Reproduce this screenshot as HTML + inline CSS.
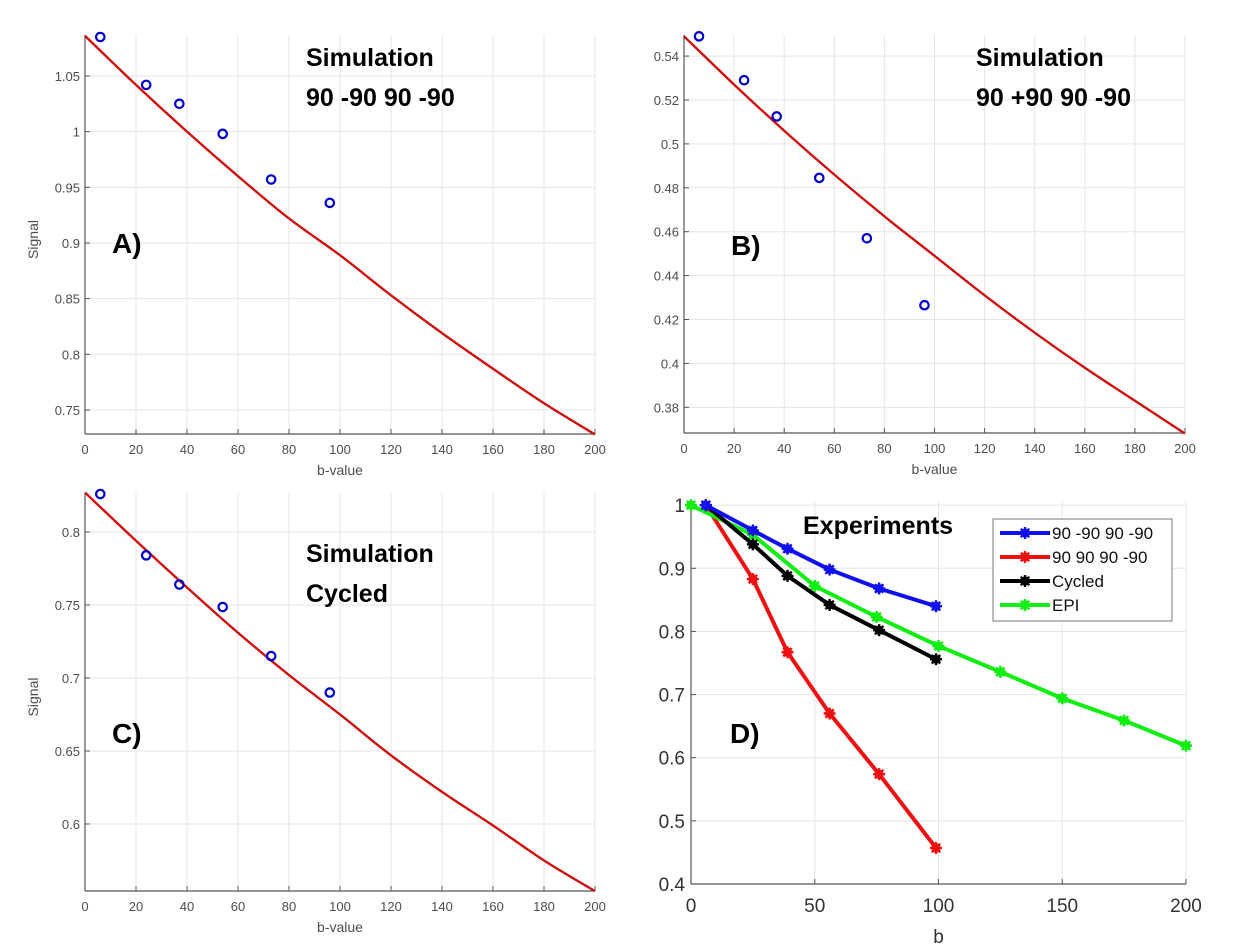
<!DOCTYPE html>
<html><head><meta charset="utf-8"><style>
body{margin:0;background:#fff;}
svg{display:block;}
.tk{font-family:"Liberation Sans",sans-serif;font-size:13px;fill:#4d4d4d;}
.tkd{font-family:"Liberation Sans",sans-serif;font-size:19px;fill:#333;}
.ann{font-family:"Liberation Sans",sans-serif;font-weight:bold;font-size:25px;fill:#000;}
.lg{font-family:"Liberation Sans",sans-serif;font-size:16px;fill:#111;}
</style></head><body>
<svg id="fig" width="1249" height="950" viewBox="0 0 1249 950" xmlns="http://www.w3.org/2000/svg"></svg>
<script>
// ---- data ----
const simB = [6, 24, 37, 54, 73, 96];
const simA = [1.085, 1.042, 1.025, 0.998, 0.957, 0.936];
const simBv = [0.549, 0.529, 0.5125, 0.4845, 0.457, 0.4265];
const simC = [0.826, 0.784, 0.764, 0.7486, 0.715, 0.690];
const fitB = [0, 20, 40, 60, 80, 100, 120, 140, 160, 180, 200];
const fitA = [1.086, 1.042, 1.000, 0.960, 0.922, 0.889, 0.853, 0.819, 0.787, 0.756, 0.728];
const fitBv = [0.549, 0.527, 0.506, 0.486, 0.467, 0.449, 0.431, 0.414, 0.398, 0.383, 0.368];
const fitC = [0.827, 0.794, 0.762, 0.731, 0.702, 0.675, 0.647, 0.622, 0.599, 0.575, 0.554];
const simXTicks = [0, 20, 40, 60, 80, 100, 120, 140, 160, 180, 200];
const aYTicks = [0.75, 0.8, 0.85, 0.9, 0.95, 1, 1.05];
const bYTicks = [0.38, 0.4, 0.42, 0.44, 0.46, 0.48, 0.5, 0.52, 0.54];
const cYTicks = [0.6, 0.65, 0.7, 0.75, 0.8];
const expB = [6, 25, 39, 56, 76, 99];
const expBlue = [1.0, 0.960, 0.931, 0.898, 0.868, 0.840];
const expRed = [1.0, 0.883, 0.767, 0.670, 0.574, 0.457];
const expBlack = [1.0, 0.938, 0.888, 0.842, 0.802, 0.756];
const epiB = [0, 25, 50, 75, 100, 125, 150, 175, 200];
const epiGreen = [1.0, 0.953, 0.872, 0.823, 0.777, 0.736, 0.694, 0.659, 0.619];
const dXTicks = [0, 50, 100, 150, 200];
const dYTicks = [0.4, 0.5, 0.6, 0.7, 0.8, 0.9, 1];
const legendLabels = ['90 -90 90 -90', '90 90 90 -90', 'Cycled', 'EPI'];

const NS = 'http://www.w3.org/2000/svg';
const svg = document.getElementById('fig');
function mk(tag, attrs, parent, txt){
  const e = document.createElementNS(NS, tag);
  for (const k in attrs) e.setAttribute(k, attrs[k]);
  if (txt !== undefined) e.textContent = txt;
  (parent || svg).appendChild(e);
  return e;
}
function axes(p){
  const sx = v => p.x0 + (v - p.xmin) / (p.xmax - p.xmin) * (p.x1 - p.x0);
  const sy = v => p.yb - (v - p.ymin) / (p.ymax - p.ymin) * (p.yb - p.yt);
  return {sx, sy};
}
function smoothPath(pts){
  let d = 'M' + pts[0][0] + ',' + pts[0][1];
  for (let i=0;i<pts.length-1;i++){
    const p0 = pts[Math.max(0,i-1)], p1 = pts[i], p2 = pts[i+1], p3 = pts[Math.min(pts.length-1,i+2)];
    const c1x = p1[0] + (p2[0]-p0[0])/6, c1y = p1[1] + (p2[1]-p0[1])/6;
    const c2x = p2[0] - (p3[0]-p1[0])/6, c2y = p2[1] - (p3[1]-p1[1])/6;
    d += ` C${c1x},${c1y} ${c2x},${c2y} ${p2[0]},${p2[1]}`;
  }
  return d;
}
function drawFrame(p, g, xt, yt, big){
  const {sx, sy} = axes(p);
  xt.forEach(v => {
    const l = mk('line', {x1:sx(v), x2:sx(v), y1:p.yt, y2:p.yb, stroke:'#e5e5e5', 'stroke-width':1}, g);
    
    
    mk('line', {x1:sx(v), x2:sx(v), y1:p.yb, y2:p.yb-5, stroke:'#555', 'stroke-width':1}, g);
    const t = mk('text', {x:sx(v), y:p.yb + (big?28:20), 'text-anchor':'middle', class: big?'tkd':'tk'}, g, String(v));
    
    
  });
  yt.forEach(v => {
    const l = mk('line', {x1:p.x0, x2:p.x1, y1:sy(v), y2:sy(v), stroke:'#e5e5e5', 'stroke-width':1}, g);
    
    
    mk('line', {x1:p.x0, x2:p.x0+5, y1:sy(v), y2:sy(v), stroke:'#555', 'stroke-width':1}, g);
    const t = mk('text', {x:p.x0 - (big?6:5), y:sy(v) + (big?7:5), 'text-anchor':'end', class: big?'tkd':'tk'}, g, String(v));
    
    
  });
  mk('line', {x1:p.x0, x2:p.x0, y1:p.yt, y2:p.yb, stroke:'#555', 'stroke-width':1.2}, g);
  mk('line', {x1:p.x0, x2:p.x1, y1:p.yb, y2:p.yb, stroke:'#555', 'stroke-width':1.2}, g);
}
function simPanel(name, p, yt, fit, pts, lines, lab, labY, showSignal){
  const g = mk('g', {});
  
  
  drawFrame(p, g, simXTicks, yt, false);
  const {sx, sy} = axes(p);
  const path = mk('path', {d: smoothPath(fitB.map((b,i)=>[sx(b), sy(fit[i])])), fill:'none', stroke:'#d01010', 'stroke-width':2.4}, g);
  
  
  simB.forEach((b,i) => {
    const c = mk('circle', {cx:sx(b), cy:sy(pts[i]), r:4.2, fill:'none', stroke:'#0000cc', 'stroke-width':2.2}, g);
    
    
  });
  const xl = mk('text', {x:(p.x0+p.x1)/2, y:p.yb+41, 'text-anchor':'middle', class:'tk', style:'font-size:14px'}, g, 'b-value');
  
  
  if (showSignal){
    const yl = mk('text', {x:0, y:0, transform:`translate(38,${(p.yt+p.yb)/2+5}) rotate(-90)`, 'text-anchor':'middle', class:'tk', style:'font-size:14px'}, g, 'Signal');
    
    
  }
  lines.forEach((l,i) => {
    const t = mk('text', {x:l[0], y:l[1], class:'ann'}, g, l[2]);
    
    
  });
  const pl = mk('text', {x:lab[0], y:labY, class:'ann', style:'font-size:28px'}, g, lab[1]);
  
  
}
simPanel('panel-a', {x0:85,x1:595,yt:35,yb:434,xmin:0,xmax:200,ymin:0.7284,ymax:1.0868}, aYTicks, fitA, simA,
  [[306,66,'Simulation'],[306,106,'90 -90 90 -90']], [112,'A)'], 253, true);
simPanel('panel-b', {x0:684,x1:1185,yt:35,yb:433,xmin:0,xmax:200,ymin:0.3683,ymax:0.5496}, bYTicks, fitBv, simBv,
  [[976,66,'Simulation'],[976,106,'90 +90 90 -90']], [731,'B)'], 255, false);
simPanel('panel-c', {x0:85,x1:595,yt:493,yb:891,xmin:0,xmax:200,ymin:0.5541,ymax:0.8267}, cYTicks, fitC, simC,
  [[306,562,'Simulation'],[306,602,'Cycled']], [112,'C)'], 743, true);

// panel D
const pd = {x0:691,x1:1186,yt:502,yb:884,xmin:0,xmax:200,ymin:0.4,ymax:1.005};
const gD = mk('g', {});


drawFrame(pd, gD, dXTicks, dYTicks, true);
const D = axes(pd);
function star(g, x, y, col){
  for (let k=0;k<4;k++){
    const a = k*Math.PI/4;
    mk('line', {x1:x-6*Math.cos(a), y1:y-6*Math.sin(a), x2:x+6*Math.cos(a), y2:y+6*Math.sin(a), stroke:col, 'stroke-width':2.4}, g);
  }
  mk('circle', {cx:x, cy:y, r:4.5, fill:col}, g);
}
function series(name, xs, ys, col){
  const g = mk('g', {}, gD);
  
  
  mk('polyline', {points: xs.map((b,i)=>D.sx(b)+','+D.sy(ys[i])).join(' '), fill:'none', stroke:col, 'stroke-width':4, 'stroke-linejoin':'round'}, g);
  xs.forEach((b,i)=>star(g, D.sx(b), D.sy(ys[i]), col));
}
series('series-90-90-90-90-red', expB, expRed, '#ee1111');
series('series-epi', epiB, epiGreen, '#11ee11');
series('series-cycled', expB, expBlack, '#000');
series('series-90-m90-90-m90', expB, expBlue, '#1010ee');
const xt = mk('text', {x:(pd.x0+pd.x1)/2, y:943, 'text-anchor':'middle', class:'tkd'}, gD, 'b');


const ex = mk('text', {x:803, y:534, class:'ann'}, gD, 'Experiments');


const dl = mk('text', {x:730, y:743, class:'ann', style:'font-size:28px'}, gD, 'D)');


const leg = mk('g', {}, gD);


mk('rect', {x:993, y:519, width:179, height:102, fill:'#fff', stroke:'#777', 'stroke-width':1}, leg);
const legCols = ['#1010ee', '#ee1111', '#000', '#11ee11'];
legendLabels.forEach((lab,i)=>{
  const y = 533 + i*24;
  const e = mk('g', {}, leg);
  
  
  mk('line', {x1:1000, x2:1050, y1:y, y2:y, stroke:legCols[i], 'stroke-width':4}, e);
  star(e, 1025, y, legCols[i]);
  mk('text', {x:1052, y:y+6, class:'lg', style:'font-size:17px'}, e, lab);
});
</script>
</body></html>
